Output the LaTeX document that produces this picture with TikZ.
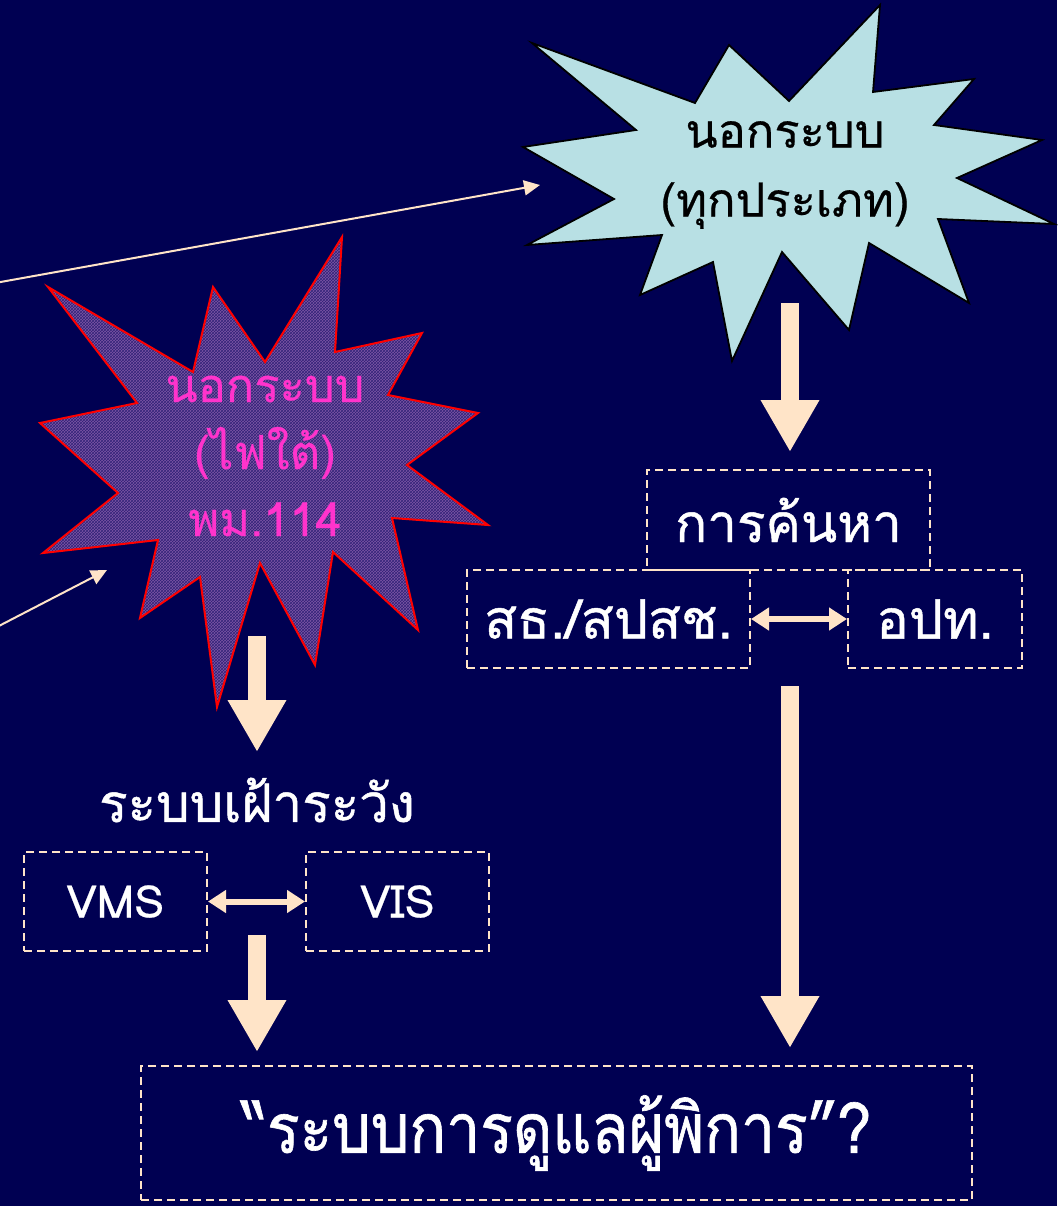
\documentclass[tikz,border=0pt]{standalone}
\usepackage{fontspec}
\newfontfamily\thai[Script=Thai,FakeBold=0.5]{Loma}
\newfontfamily\thaiw[Script=Thai,FakeBold=0.9]{Loma}
\newfontfamily\thaiwc[Script=Thai,FakeBold=0.9,FakeStretch=0.88]{Loma}
\usetikzlibrary{arrows.meta,patterns}
\definecolor{bgnavy}{RGB}{0,0,82}
\definecolor{peach}{RGB}{255,228,200}
\definecolor{starcyan}{RGB}{184,224,228}
\definecolor{starpurple}{RGB}{125,85,165}
\definecolor{gridnavy}{RGB}{50,35,120}
\definecolor{hotpink}{RGB}{255,51,204}
\begin{document}
\begin{tikzpicture}[x=1pt,y=-1pt,
  dbox/.style={draw=peach, line width=2pt, dash pattern=on 8pt off 5pt, inner sep=0pt, text=white},
  bigarrow/.style={draw=peach, line width=18pt, -{Triangle[width=55pt,length=52pt]}},
  dblarrow/.style={draw=peach, line width=6pt, {Triangle[width=22pt,length=18pt]}-{Triangle[width=22pt,length=18pt]}},
  thinarrow/.style={draw=peach, line width=2pt, -{Triangle[width=15pt,length=16pt]}},
  lbl/.style={inner sep=0pt, align=center}]
\fill[bgnavy] (0,0) rectangle (1057,1206);
\useasboundingbox (0,0) rectangle (1057,1206);

% right starburst
\filldraw[fill=starcyan, draw=black, line width=1.8pt, line join=miter]
 (532,43) -- (695,103) -- (729,45) -- (789,101) -- (880,5) -- (873,92) -- (974,79) -- (934,125)
 -- (1042,140) -- (957,178) -- (1054,224) -- (938,219) -- (969,303) -- (869,243) -- (849,330)
 -- (782,252) -- (732,361) -- (713,262) -- (640,295) -- (662,235) -- (527,245) -- (614,199)
 -- (523,147) -- (636,130) -- cycle;
\node[lbl, text=black, font=\thai\fontsize{47}{69}\selectfont] (outall) at (785,175) {นอกระบบ\\(ทุกประเภท)};

% left starburst
\path[fill=starpurple]
 (48,287) -- (193,372) -- (213,287) -- (265,362) -- (342,237) -- (335,352) -- (422,333) -- (388,395)
 -- (478,413) -- (407,465) -- (488,525) -- (392,518) -- (418,630) -- (333,552) -- (315,665)
 -- (260,563) -- (217,707) -- (200,577) -- (140,618) -- (158,540) -- (43,553) -- (118,493)
 -- (40,423) -- (137,403) -- cycle;
\path[pattern=crosshatch, pattern color=gridnavy]
 (48,287) -- (193,372) -- (213,287) -- (265,362) -- (342,237) -- (335,352) -- (422,333) -- (388,395)
 -- (478,413) -- (407,465) -- (488,525) -- (392,518) -- (418,630) -- (333,552) -- (315,665)
 -- (260,563) -- (217,707) -- (200,577) -- (140,618) -- (158,540) -- (43,553) -- (118,493)
 -- (40,423) -- (137,403) -- cycle;
\draw[red, line width=2pt, line join=miter]
 (48,287) -- (193,372) -- (213,287) -- (265,362) -- (342,237) -- (335,352) -- (422,333) -- (388,395)
 -- (478,413) -- (407,465) -- (488,525) -- (392,518) -- (418,630) -- (333,552) -- (315,665)
 -- (260,563) -- (217,707) -- (200,577) -- (140,618) -- (158,540) -- (43,553) -- (118,493)
 -- (40,423) -- (137,403) -- cycle;
\node[lbl, text=hotpink, font=\thai\fontsize{47}{67}\selectfont] (outsouth) at (265,456) {นอกระบบ\\(ไฟใต้)\\พม.114};

% boxes
\node[dbox, minimum width=283pt, minimum height=100pt, font=\thaiw\fontsize{53}{60}\selectfont] (search) at (788.5,520) {การค้นหา};
\node[dbox, minimum width=283pt, minimum height=98pt, font=\thaiw\fontsize{54}{60}\selectfont] (moph) at (608.5,619) {สธ./สปสช.};
\node[dbox, minimum width=174pt, minimum height=98pt, font=\thaiw\fontsize{54}{60}\selectfont] (lao) at (935,619) {อปท.};
\node[lbl, text=white, font=\thaiw\fontsize{53}{60}\selectfont] (surv) at (257,800) {ระบบเฝ้าระวัง};
\node[dbox, minimum width=183pt, minimum height=99pt, font=\thai\fontsize{45}{50}\selectfont] (vms) at (115.5,901.5) {VMS};
\node[dbox, minimum width=183pt, minimum height=99pt, font=\thai\fontsize{45}{50}\selectfont] (vis) at (397.5,901.5) {VIS};
\node[dbox, minimum width=831pt, minimum height=134pt, font=\thaiwc\fontsize{69}{75}\selectfont] (care) at (556.5,1133) {“ระบบการดูแลผู้พิการ”?};

% connector coordinates
\coordinate (r1s) at (790,303);
\coordinate (r1e) at (790,452);
\coordinate (l1s) at (257,636);
\coordinate (l1e) at (257,752);
\coordinate (l2s) at (257,935);
\coordinate (l2e) at (257,1052);
\coordinate (r2s) at (790,686);
\coordinate (r2e) at (790,1048);
\coordinate (t1s) at (-5,283);
\coordinate (t1e) at (540,185);
\coordinate (t2s) at (-5,628);
\coordinate (t2e) at (107,570);

\draw[bigarrow] (r1s) -- (r1e);
\draw[bigarrow] (l1s) -- (l1e);
\draw[bigarrow] (l2s) -- (l2e);
\draw[bigarrow] (r2s) -- (r2e);
\draw[dblarrow] (moph.east) -- (lao.west);
\draw[dblarrow] (vms.east) -- (vis.west);
\draw[thinarrow] (t1s) -- (t1e);
\draw[thinarrow] (t2s) -- (t2e);
\end{tikzpicture}
\end{document}
